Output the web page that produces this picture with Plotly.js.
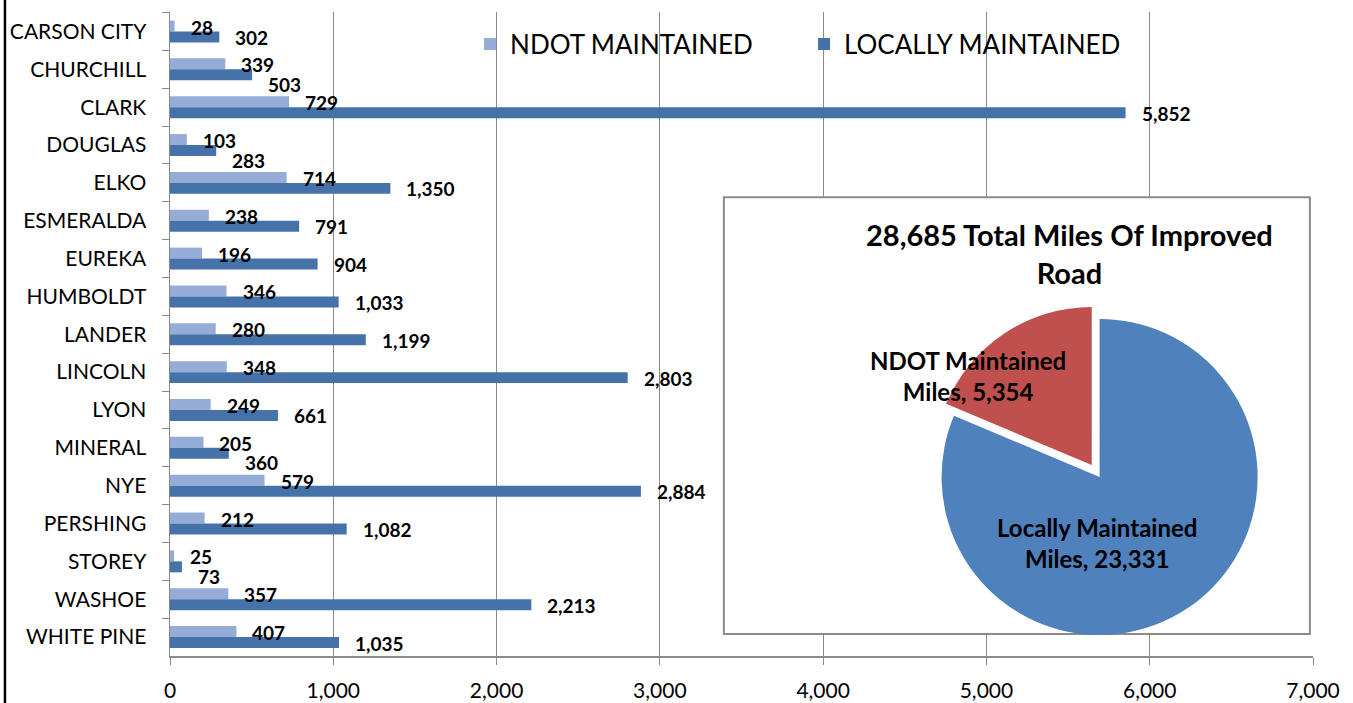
<!DOCTYPE html>
<html><head><meta charset="utf-8">
<script src="https://cdn.plot.ly/plotly-3.0.1.min.js"></script>
<style>html,body{margin:0;padding:0;background:#fff}#chart{width:1353px;height:703px}</style>
</head><body><div id="chart"></div>
<script>
const counties = ['CARSON CITY','CHURCHILL','CLARK','DOUGLAS','ELKO','ESMERALDA','EUREKA','HUMBOLDT','LANDER','LINCOLN','LYON','MINERAL','NYE','PERSHING','STOREY','WASHOE','WHITE PINE'];
const ndotMiles = [28,339,729,103,714,238,196,346,280,348,249,205,579,212,25,357,407];
const localMiles = [302,503,5852,283,1350,791,904,1033,1199,2803,661,360,2884,1082,73,2213,1035];
const seriesNames = ['NDOT MAINTAINED','LOCALLY MAINTAINED'];
const xTicks = [0,1000,2000,3000,4000,5000,6000,7000];
const pieLabels = ['Locally Maintained Miles','NDOT Maintained Miles'];
const pieValues = [23331,5354];

const fmt = v => v.toLocaleString('en-US');
const pieTotal = pieValues.reduce((a,b)=>a+b,0);

const LIGHT = '#95ADD6', DARK = '#4672AA';
const GRID = '#8A8A8A';
const BOLD = 'Lato';

const traces = [
  {type:'bar', orientation:'h', name:seriesNames[0], y:counties, x:ndotMiles,
   marker:{color:LIGHT}, hoverinfo:'x+y'},
  {type:'bar', orientation:'h', name:seriesNames[1], y:counties, x:localMiles,
   marker:{color:DARK}, hoverinfo:'x+y'},
  {type:'pie', labels:pieLabels, values:pieValues, sort:false, direction:'clockwise',
   rotation:0, pull:[0,0.09], textinfo:'none', showlegend:false,
   marker:{colors:['#4F81BD','#C0504D'], line:{width:0}},
   domain:{x:[0.6626,0.9640], y:[0.0105,0.5455]}}
];

// data value labels
const annotations = [];
counties.forEach((c,i)=>{
  const nd = ndotMiles[i], lc = localMiles[i];
  const ndText = fmt(nd), lcText = fmt(lc);
  const crowded = lc < nd + ndText.length*62 + 20;
  annotations.push({x:nd, y:c, xref:'x', yref:'y', text:'<b>'+ndText+'</b>', showarrow:false,
    xanchor:'left', yanchor:'middle', xshift:14, yshift:4.5,
    font:{family:BOLD, size:19, color:'#000'}});
  annotations.push({x:lc, y:c, xref:'x', yref:'y', text:'<b>'+lcText+'</b>', showarrow:false,
    xanchor:'left', yanchor:'middle', xshift:14, yshift: crowded ? -15 : -6,
    font:{family:BOLD, size:19, color:'#000'}});
});
// pie title & labels
annotations.push({xref:'paper', yref:'paper', x:0.787, y:0.625, xanchor:'center', yanchor:'middle', showarrow:false,
  text:'<b>'+fmt(pieTotal)+' Total Miles Of Improved<br>Road</b>',
  font:{family:BOLD, size:29, color:'#000'}, align:'center'});
const pieLabelPos = [[0.811,0.1747],[0.698,0.4348]];
pieLabels.forEach((l,i)=>{
  annotations.push({xref:'paper', yref:'paper', x:pieLabelPos[i][0], y:pieLabelPos[i][1],
    xanchor:'center', yanchor:'middle', showarrow:false,
    text:'<b>'+l.replace(' Miles','<br>Miles')+', '+fmt(pieValues[i])+'</b>',
    font:{family:BOLD, size:24, color:'#000'}, align:'center'});
});

const layout = {
  width:1353, height:703,
  margin:{l:170, r:40, t:12, b:47},
  paper_bgcolor:'#fff', plot_bgcolor:'#fff',
  barmode:'group', bargap:0.42, bargroupgap:0,
  font:{family:'Lato', color:'#000'},
  xaxis:{range:[0,7000], tickvals:xTicks, tickformat:',', showgrid:true, gridcolor:GRID, gridwidth:1,
    showline:true, linecolor:GRID, linewidth:1.5, ticks:'outside', ticklen:7, tickcolor:GRID,
    tickfont:{family:'Lato', size:21, color:'#000'}, ticklabelstandoff:8, zeroline:false, fixedrange:true},
  yaxis:{type:'category', autorange:'reversed', showline:true, linecolor:GRID, linewidth:1.5,
    ticks:'outside', ticklen:7, tickcolor:GRID, tickson:'boundaries', showgrid:false,
    tickfont:{family:'Lato', size:21, color:'#000'}, ticklabelstandoff:18, fixedrange:true},
  legend:{orientation:'h', x:0.2625, xanchor:'left', y:0.9503, yanchor:'middle',
    font:{family:'Lato', size:26, color:'#000'}, bgcolor:'rgba(0,0,0,0)', entrywidth:289,
    traceorder:'normal'},
  shapes:[
    {type:'rect', xref:'x', yref:'y', x0:3392, x1:6981, y0:4.38, y1:15.92, layer:'between',
     fillcolor:'#fff', line:{color:GRID, width:2}},
    {type:'line', xref:'paper', yref:'paper', x0:-0.1444, x1:-0.1444, y0:-0.08, y1:1.03,
     line:{color:'#000', width:2.5}, layer:'above'}
  ],
  annotations:annotations,
  showlegend:true
};
Plotly.newPlot('chart', traces, layout, {displayModeBar:false, staticPlot:true});
</script></body></html>
